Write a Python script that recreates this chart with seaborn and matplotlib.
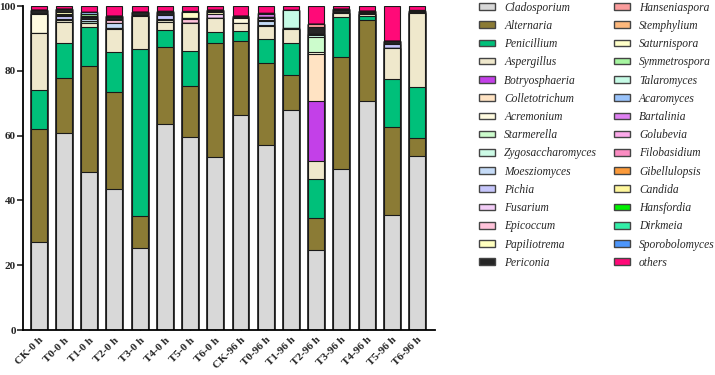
import numpy as np
import pandas as pd
import matplotlib
matplotlib.use('Agg')
import matplotlib.pyplot as plt
import seaborn as sns
from matplotlib.patches import Patch

samples = ['CK-0 h', 'T0-0 h', 'T1-0 h', 'T2-0 h', 'T3-0 h', 'T4-0 h', 'T5-0 h', 'T6-0 h',
           'CK-96 h', 'T0-96 h', 'T1-96 h', 'T2-96 h', 'T3-96 h', 'T4-96 h', 'T5-96 h', 'T6-96 h']

# relative abundance (%) per genus, one value per sample
cladosporium = [27.3, 60.7, 48.9, 43.5, 25.4, 63.5, 59.6, 53.3, 66.5, 57.2, 67.8, 24.7, 49.8, 70.8, 35.5, 53.6]
alternaria = [34.6, 17.2, 32.7, 29.9, 9.9, 23.8, 15.8, 35.4, 22.8, 25.1, 11.0, 9.8, 34.4, 24.8, 27.1, 5.8]
penicillium = [12.2, 10.8, 11.8, 12.3, 51.3, 5.4, 10.6, 3.4, 3.1, 7.4, 9.7, 12.0, 12.3, 1.3, 14.8, 15.5]
aspergillus = [17.5, 6.5, 1.5, 7.1, 10.3, 2.5, 8.9, 4.1, 2.5, 4.0, 4.3, 5.8, 1.2, 0.6, 9.7, 22.9]
botryosphaeria = [0, 0, 0, 0, 0, 0, 0, 0, 0, 0, 0, 18.4, 0, 0, 0, 0]
colletotrichum = [0, 0, 0, 0, 0, 0, 0, 0, 0, 0, 0, 14.4, 0, 0, 0, 0]
acremonium = [6.0, 0.4, 0, 0.4, 0, 0.5, 0, 0, 1.5, 0, 0, 0.8, 0, 0, 0, 0]
starmerella = [0, 0, 0, 0, 0, 0, 0, 0, 0, 0, 0, 4.6, 0, 0, 0, 0]
zygosaccharomyces = [0, 0, 0.4, 0, 0, 0, 0, 0, 0, 0.3, 0, 0.6, 0, 0, 0, 0]
moesziomyces = [0, 0.3, 0.6, 1.6, 0, 0.4, 0, 0, 0, 1.3, 0, 0.4, 0, 0, 0, 0]
pichia = [0, 1.0, 0, 0, 0, 1.2, 0, 0, 0, 0.5, 0, 0, 0, 0, 1.1, 0]
fusarium = [0, 0.3, 0, 0, 0, 0, 0, 1.3, 0, 0.5, 0, 0, 0, 0, 0, 0]
epicoccum = [0, 0.2, 0, 0.9, 0, 0, 1.0, 0, 0, 0, 0, 0, 0, 0, 0, 0]
papiliotrema = [0, 0.9, 0, 0.4, 0, 0, 0, 0.5, 0, 0, 0, 0, 0, 0, 0, 0]
periconia = [1.3, 0.8, 0.7, 0.6, 1.1, 0.9, 0.5, 0.5, 0.6, 0.3, 0.5, 1.9, 1.0, 0.6, 1.0, 0.7]
hanseniaspora = [0, 0, 0.3, 0.3, 0, 0, 0, 0.4, 0, 0, 0, 0.9, 0.3, 0.3, 0, 0]
stemphylium = [0] * 16
saturnispora = [0, 0, 0, 0, 0, 0, 1.6, 0, 0, 0, 0, 0, 0, 0, 0, 0]
symmetrospora = [0, 0, 0.6, 0, 0, 0, 0, 0, 0, 0, 0, 0, 0, 0, 0, 0]
talaromyces = [0, 0, 0, 0, 0, 0, 0, 0, 0, 0, 5.5, 0, 0, 0, 0, 0]
acaromyces = [0, 0, 0.6, 0, 0, 0, 0, 0, 0, 0, 0, 0, 0, 0, 0, 0]
bartalinia = [0, 0, 0, 0, 0, 0, 0, 0, 0, 0.9, 0, 0, 0, 0, 0, 0]
golubevia = [0, 0, 0, 0, 0, 0.4, 0, 0, 0, 0.4, 0, 0, 0, 0, 0, 0]
filobasidium = [0] * 16
gibellulopsis = [0] * 16
candida = [0, 0, 0, 0, 0, 0, 0.4, 0, 0, 0, 0, 0, 0, 0, 0, 0]
hansfordia = [0, 0, 0, 0, 0, 0, 0, 0, 0, 0, 0, 0, 0, 0, 0, 0.4]
dirkmeia = [0] * 16
sporobolomyces = [0] * 16
others = [1.1, 0.9, 1.9, 3.0, 2.0, 1.3, 1.6, 1.1, 3.0, 2.1, 1.2, 5.7, 1.0, 1.6, 10.8, 1.1]

genera = ['Cladosporium', 'Alternaria', 'Penicillium', 'Aspergillus', 'Botryosphaeria',
          'Colletotrichum', 'Acremonium', 'Starmerella', 'Zygosaccharomyces', 'Moesziomyces',
          'Pichia', 'Fusarium', 'Epicoccum', 'Papiliotrema', 'Periconia', 'Hanseniaspora',
          'Stemphylium', 'Saturnispora', 'Symmetrospora', 'Talaromyces', 'Acaromyces',
          'Bartalinia', 'Golubevia', 'Filobasidium', 'Gibellulopsis', 'Candida', 'Hansfordia',
          'Dirkmeia', 'Sporobolomyces', 'others']
colors = ['#d8d8d8', '#8b7b35', '#00c07a', '#efe8cc', '#c340e8', '#ffe3c3', '#fffbe0',
          '#ccfccc', '#cdfbe6', '#c5dbf7', '#c6c6fb', '#f3cdf7', '#ffc3da', '#ffffbf',
          '#262626', '#fb9c9c', '#fdb87c', '#ffffc8', '#a6f5a0', '#c6fbe6', '#99c3fb',
          '#df80f2', '#fca9ea', '#fb8cc2', '#fb9a3a', '#fff79c', '#00f000', '#33eea8',
          '#4d96fb', '#ff0a78']

df = pd.DataFrame([cladosporium, alternaria, penicillium, aspergillus, botryosphaeria,
                   colletotrichum, acremonium, starmerella, zygosaccharomyces, moesziomyces,
                   pichia, fusarium, epicoccum, papiliotrema, periconia, hanseniaspora,
                   stemphylium, saturnispora, symmetrospora, talaromyces, acaromyces,
                   bartalinia, golubevia, filobasidium, gibellulopsis, candida, hansfordia,
                   dirkmeia, sporobolomyces, others], index=genera, columns=samples)
cum = df.cumsum()

sns.set_style('ticks')
plt.rcParams['font.family'] = ['Liberation Serif', 'DejaVu Serif']

fig = plt.figure(figsize=(7.15, 3.75), dpi=100)
ax = fig.add_axes([0.032, 0.12, 0.576, 0.864])

# draw cumulative bars from the top layer down so each one covers the next
for g, c in zip(genera[::-1], colors[::-1]):
    sns.barplot(x=samples, y=cum.loc[g].values, color=c, saturation=1, width=0.63,
                edgecolor='#1a1a1a', linewidth=0.8, ax=ax)

ax.set_ylim(0, 100)
ax.set_xlim(-0.63, 15.7)
ax.set_yticks([0, 20, 40, 60, 80, 100])
ax.set_xlabel('')
ax.set_ylabel('')
sns.despine(ax=ax)
for s in ['left', 'bottom']:
    ax.spines[s].set_linewidth(1.3)
    ax.spines[s].set_color('black')
ax.tick_params(axis='y', direction='out', length=4, width=1.2, labelsize=8, pad=1)
ax.tick_params(axis='x', direction='in', length=3, width=1, labelsize=8, pad=4)
plt.setp(ax.get_xticklabels(), rotation=45, ha='right', rotation_mode='anchor', fontweight='bold')
plt.setp(ax.get_yticklabels(), fontweight='bold')

handles = [Patch(facecolor=c, edgecolor='#444444', linewidth=1) for c in colors]
fig.legend(handles, genera, loc='upper left', bbox_to_anchor=(0.664, 1.008), ncol=2,
           frameon=False, borderaxespad=0, handlelength=1.38, handleheight=0.5,
           labelspacing=0.54, columnspacing=1.45, handletextpad=0.78,
           prop={'family': 'Liberation Serif', 'style': 'italic', 'size': 8.3})

fig.savefig('out.png', dpi=100)
